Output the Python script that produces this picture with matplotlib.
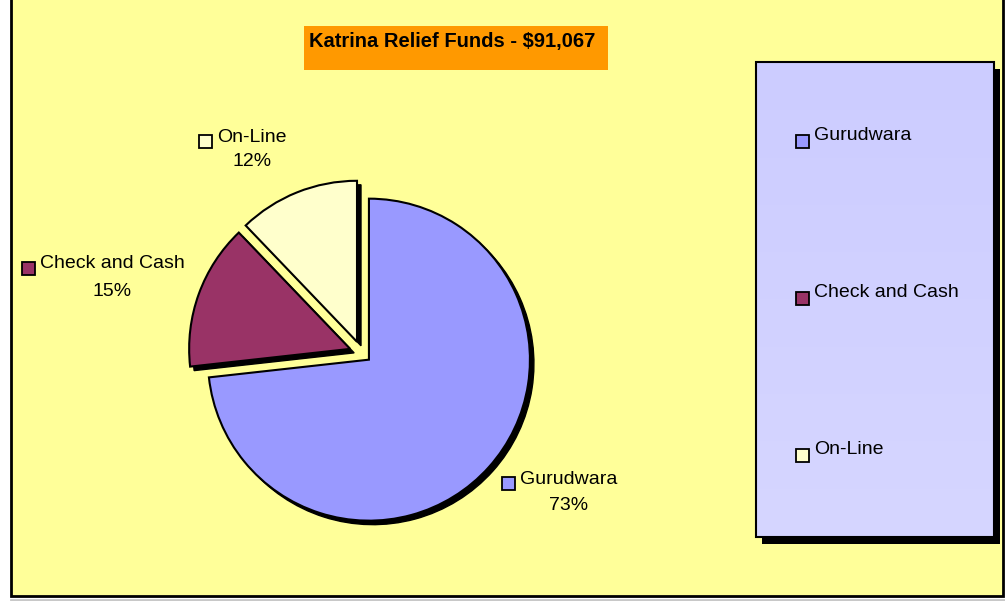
import matplotlib
matplotlib.use("Agg")
import matplotlib.pyplot as plt
from matplotlib.patches import Rectangle
import numpy as np

W, H = 1005, 601

title = "Katrina Relief Funds - $91,067"
categories = ["Gurudwara", "Check and Cash", "On-Line"]
amounts = [66700, 13300, 11067]
colors = ["#9999FF", "#993366", "#FFFFCC"]
explode = [0.062, 0.075, 0.075]

plt.rcParams["font.family"] = ["Liberation Sans", "DejaVu Sans"]

fig = plt.figure(figsize=(W / 100, H / 100), dpi=100)
fig.patch.set_facecolor("white")
ax = fig.add_axes([0, 0, 1, 1])


def Y(y):
    # pixel row (from top) -> data y (from bottom)
    return H - y


# chart area with border (top edge runs off the picture)
ax.add_patch(Rectangle((11, Y(596)), 992, 620, facecolor="#FFFF99",
                       edgecolor="black", lw=2, zorder=0))
ax.plot([11, 1004], [Y(599.5)] * 2, color="#C8C8C8", lw=2, zorder=0)

# title box
ax.add_patch(Rectangle((304, Y(70)), 304, 44, facecolor="#FF9900",
                       edgecolor="none", zorder=1))
ax.text(452, Y(41), title, ha="center", va="center", fontsize=14.5,
        fontweight="bold", color="black", zorder=2)

# pie with a hard black shadow (explode given as fraction of radius)
cx, cy, r = 361.5, Y(353), 161
expl = [e * r for e in explode]
ax.pie(amounts, explode=expl, colors=["black"] * 3, startangle=90,
       counterclock=False, center=(cx + 4, cy - 4), radius=r, frame=True,
       wedgeprops=dict(edgecolor="black", linewidth=1, zorder=2))
wedges, _ = ax.pie(amounts, explode=expl, colors=colors, startangle=90,
                   counterclock=False, center=(cx, cy), radius=r, frame=True,
                   wedgeprops=dict(edgecolor="black", linewidth=1.5, zorder=3))

ax.set_xlim(0, W)
ax.set_ylim(0, H)
ax.set_aspect("auto")
ax.axis("off")

# data labels: name + percentage, with legend key in front
total = sum(amounts)
pcts = [a / total * 100 for a in amounts]
label_pos = [(569, 479, 506), (112.5, 264, 291), (252, 137, 162)]

fig.canvas.draw()
renderer = fig.canvas.get_renderer()
inv = ax.transData.inverted()
for name, p, col, (lx, y1, y2) in zip(categories, pcts, colors, label_pos):
    t = ax.text(lx, Y(y1), name, ha="center", va="center", fontsize=14, zorder=5)
    ax.text(lx, Y(y2), f"{p:.0f}%", ha="center", va="center", fontsize=14, zorder=5)
    bb = t.get_window_extent(renderer)
    x0 = inv.transform((bb.x0, bb.y0))[0]
    ax.add_patch(Rectangle((x0 - 18, Y(y1 + 11)), 13, 13, facecolor=col,
                           edgecolor="black", lw=1.3, zorder=5))

# legend box with shadow and soft gradient
lx0, lx1, ly0, ly1 = 756, 994, 62, 537
ax.add_patch(Rectangle((lx0 + 6, Y(ly1 + 7)), lx1 - lx0, ly1 - ly0,
                       facecolor="black", edgecolor="none", zorder=2))
grad = np.linspace(0, 1, 256).reshape(-1, 1)
top = np.array([0xCC, 0xCC, 0xFF]) / 255
bot = np.array([0xD6, 0xD6, 0xFF]) / 255
img = top[None, None, :] * (1 - grad[..., None]) + bot[None, None, :] * grad[..., None]
ax.imshow(img, extent=[lx0, lx1, Y(ly1), Y(ly0)], origin="upper",
          aspect="auto", zorder=3)
ax.add_patch(Rectangle((lx0, Y(ly1)), lx1 - lx0, ly1 - ly0,
                       facecolor="none", edgecolor="black", lw=1.5, zorder=4))

legend_y = [135.5, 292.5, 449.5]
for name, col, ly in zip(categories, colors, legend_y):
    ax.add_patch(Rectangle((796, Y(ly + 12)), 13, 13, facecolor=col,
                           edgecolor="black", lw=1.3, zorder=5))
    ax.text(814, Y(ly), name, ha="left", va="center", fontsize=14, zorder=5)

ax.set_xlim(0, W)
ax.set_ylim(0, H)

fig.savefig("out.png", dpi=100)
